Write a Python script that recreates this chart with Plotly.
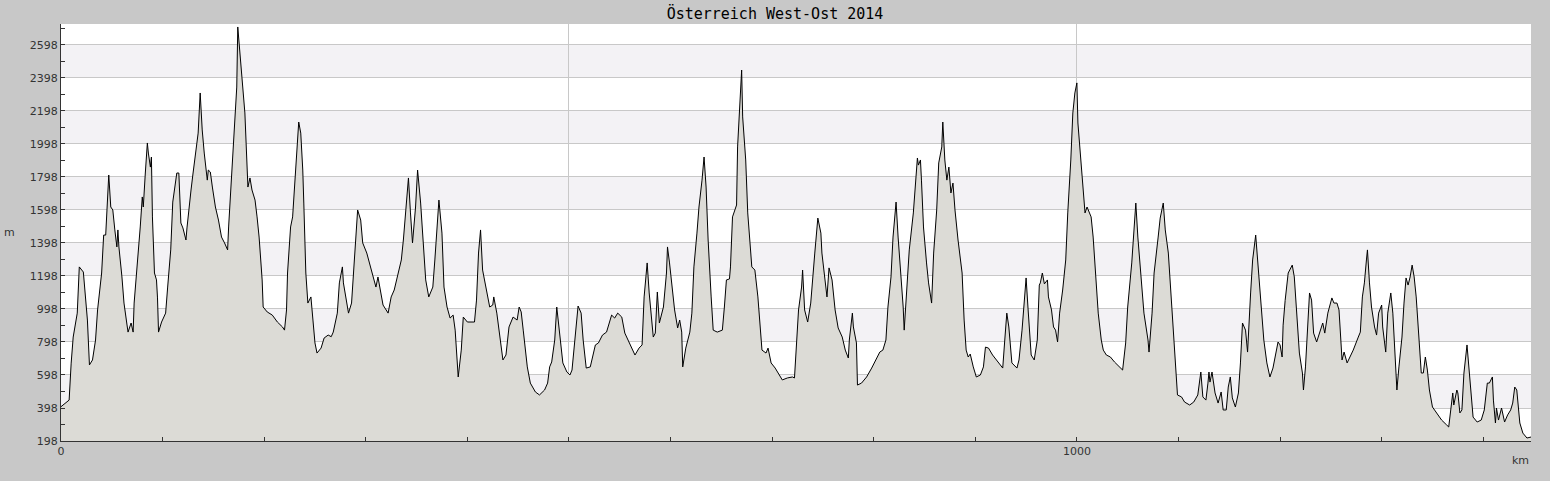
import plotly.graph_objects as go

# Höhenprofil, Distanz in km, Höhe in m
km = [0, 4, 8, 10, 12, 16, 18, 22, 26, 28, 31, 34, 36, 40, 42, 44, 46, 47, 49, 51,
      53, 55, 56, 57, 60, 62, 65, 66, 69, 71, 72, 75, 78, 80, 81, 83, 85, 86, 88, 89,
      90, 92, 94, 95, 96, 99, 103, 105, 108, 110, 114, 116, 118, 120, 123, 124, 126, 128, 130, 133,
      135, 137, 139, 141, 144, 145, 147, 149, 152, 155, 158, 161, 164, 165, 168, 171, 173, 174, 176, 178,
      181, 184, 186, 188, 191, 193, 195, 198, 199, 203, 208, 213, 218, 220, 222, 223, 226, 228, 231, 233,
      234, 236, 238, 239, 241, 243, 246, 248, 250, 252, 256, 259, 263, 266, 268, 272, 274, 277, 278, 282,
      283, 286, 289, 292, 295, 297, 301, 306, 310, 312, 314, 317, 322, 325, 328, 331, 335, 337, 340, 342,
      344, 346, 349, 351, 354, 356, 359, 362, 366, 368, 370, 372, 375, 377, 380, 383, 386, 388, 391, 394,
      396, 400, 407, 409, 411, 413, 415, 419, 422, 425, 426, 429, 432, 435, 438, 441, 445, 449, 451, 453,
      455, 459, 462, 467, 471, 476, 479, 481, 483, 486, 488, 491, 494, 498, 501, 503, 506, 509, 512, 514,
      517, 521, 526, 529, 533, 537, 542, 545, 548, 552, 555, 560, 565, 569, 572, 574, 577, 579, 581, 583,
      585, 587, 589, 593, 596, 597, 599, 601, 604, 607, 609, 611, 612, 615, 619, 621, 623, 626, 628, 631,
      633, 635, 637, 640, 642, 646, 651, 653, 655, 658, 659, 661, 665, 666, 668, 670, 671, 674, 676, 680,
      683, 686, 690, 694, 696, 699, 703, 706, 710, 715, 720, 722, 724, 726, 729, 730, 732, 735, 738, 740,
      742, 745, 748, 749, 752, 754, 756, 759, 762, 765, 769, 772, 775, 776, 779, 780, 783, 784, 788, 793,
      798, 803, 806, 809, 812, 814, 817, 819, 822, 824, 827, 829, 830, 833, 835, 839, 841, 843, 844, 846,
      847, 849, 852, 854, 857, 859, 862, 864, 867, 868, 870, 872, 874, 876, 878, 880, 883, 887, 889, 891,
      893, 895, 898, 901, 905, 908, 910, 913, 917, 922, 927, 929, 931, 933, 936, 941, 943, 946, 948, 950,
      952, 955, 958, 961, 963, 964, 966, 968, 971, 972, 975, 977, 979, 981, 983, 986, 989, 991, 994, 996,
      998, 1000, 1001, 1004, 1006, 1008, 1010, 1012, 1014, 1016, 1019, 1021, 1024, 1026, 1029, 1033, 1037, 1042, 1045, 1048,
      1050, 1054, 1056, 1058, 1060, 1063, 1066, 1070, 1071, 1074, 1076, 1080, 1082, 1085, 1087, 1090, 1092, 1095, 1098, 1099,
      1103, 1106, 1111, 1115, 1119, 1120, 1122, 1124, 1127, 1129, 1130, 1131, 1133, 1136, 1139, 1142, 1144, 1147, 1149, 1151,
      1153, 1156, 1159, 1161, 1163, 1166, 1168, 1171, 1173, 1176, 1178, 1181, 1184, 1187, 1190, 1193, 1196, 1198, 1200, 1202,
      1203, 1205, 1208, 1212, 1214, 1217, 1219, 1222, 1223, 1225, 1227, 1229, 1231, 1233, 1236, 1239, 1242, 1244, 1247, 1251,
      1253, 1256, 1258, 1261, 1263, 1266, 1269, 1272, 1277, 1279, 1281, 1283, 1285, 1286, 1288, 1290, 1293, 1295, 1297, 1300,
      1301, 1304, 1306, 1309, 1311, 1313, 1315, 1317, 1320, 1322, 1324, 1326, 1328, 1330, 1332, 1334, 1336, 1339, 1341, 1343,
      1345, 1347, 1350, 1354, 1359, 1364, 1366, 1368, 1370, 1371, 1374, 1375, 1377, 1379, 1381, 1384, 1386, 1388, 1390, 1394,
      1398, 1401, 1404, 1406, 1409, 1410, 1412, 1413, 1415, 1418, 1421, 1424, 1427, 1429, 1431, 1433, 1436, 1439, 1443, 1447]

hoehe = [406, 428, 446, 670, 828, 973, 1253, 1222, 931, 659, 689, 810, 992, 1216, 1446, 1446, 1737, 1810, 1616, 1598,
         1477, 1374, 1477, 1374, 1192, 1034, 901, 858, 913, 858, 1034, 1253, 1495, 1677, 1616, 1822, 2004, 1943, 1858, 1919,
         1556, 1216, 1174, 1065, 858, 919, 973, 1131, 1356, 1646, 1822, 1822, 1519, 1489, 1416, 1489, 1616, 1719, 1822, 1961,
         2064, 2307, 2083, 1943, 1779, 1840, 1828, 1737, 1616, 1537, 1434, 1398, 1356, 1495, 1798, 2083, 2343, 2707, 2549, 2428,
         2186, 1737, 1792, 1719, 1658, 1556, 1434, 1174, 1010, 980, 961, 919, 889, 870, 992, 1216, 1495, 1556, 1840, 2064,
         2131, 2064, 1840, 1640, 1216, 1034, 1071, 931, 792, 731, 761, 822, 840, 830, 858, 973, 1156, 1253, 1156, 1010,
         973, 1034, 1337, 1598, 1537, 1398, 1337, 1216, 1131, 1192, 1113, 1022, 973, 1071, 1113, 1186, 1295, 1416, 1616, 1792,
         1580, 1398, 1616, 1840, 1640, 1434, 1174, 1071, 1131, 1295, 1495, 1658, 1458, 1131, 1010, 943, 961, 870, 586, 749,
         949, 919, 919, 1052, 1337, 1477, 1234, 1113, 1010, 1022, 1071, 973, 828, 689, 719, 889, 949, 931, 1010, 980,
         870, 647, 549, 495, 477, 507, 549, 647, 677, 810, 1010, 828, 671, 616, 598, 628, 810, 1016, 973, 810,
         640, 647, 780, 792, 840, 858, 961, 943, 973, 949, 852, 780, 719, 761, 780, 1071, 1277, 1095, 973, 828,
         852, 1101, 913, 1010, 1216, 1374, 1277, 1174, 992, 883, 931, 858, 647, 761, 858, 973, 1253, 1458, 1616, 1779,
         1919, 1737, 1416, 1071, 870, 858, 870, 1010, 1174, 1180, 1253, 1556, 1628, 1980, 2204, 2446, 2162, 1901, 1580, 1253,
         1234, 1071, 749, 731, 761, 671, 640, 610, 568, 580, 586, 580, 767, 992, 1131, 1234, 992, 919, 1034, 1216,
         1337, 1549, 1458, 1337, 1162, 1071, 1247, 1174, 992, 883, 828, 749, 701, 810, 973, 889, 792, 537, 549, 586,
         640, 707, 737, 749, 810, 1010, 1192, 1434, 1646, 1434, 1192, 1010, 870, 1156, 1356, 1580, 1737, 1913, 1870, 1901,
         1779, 1495, 1277, 1156, 1034, 1337, 1598, 1883, 1980, 2131, 1901, 1779, 1858, 1701, 1761, 1598, 1416, 1216, 931, 749,
         707, 725, 647, 586, 598, 647, 767, 761, 719, 677, 640, 810, 973, 889, 671, 640, 689, 870, 1010, 1186,
         992, 719, 689, 810, 1143, 1156, 1216, 1150, 1174, 1071, 992, 889, 870, 798, 973, 1113, 1295, 1580, 1901, 2186,
         2307, 2368, 2125, 1901, 1737, 1580, 1616, 1580, 1556, 1434, 1192, 973, 810, 749, 719, 707, 677, 647, 628, 792,
         1010, 1277, 1495, 1640, 1434, 1174, 973, 810, 737, 973, 1216, 1434, 1549, 1640, 1477, 1337, 1156, 870, 610, 477,
         465, 434, 416, 434, 477, 525, 616, 465, 446, 549, 616, 555, 616, 489, 428, 495, 386, 386, 525, 586,
         459, 404, 489, 671, 913, 870, 737, 1095, 1295, 1446, 1295, 1034, 810, 671, 586, 640, 731, 798, 780, 707,
         900, 1050, 1216, 1264, 1192, 931, 731, 610, 507, 647, 852, 1095, 1052, 852, 798, 852, 913, 852, 973, 1065,
         1034, 1034, 992, 689, 737, 671, 707, 749, 828, 858, 1071, 1156, 1295, 1356, 1156, 1010, 889, 840, 973, 1022,
         889, 737, 973, 1095, 973, 707, 507, 647, 828, 1034, 1186, 1143, 1192, 1264, 1192, 1071, 870, 610, 610, 707,
         628, 507, 404, 368, 325, 295, 283, 386, 489, 416, 507, 489, 368, 386, 610, 780, 647, 465, 343, 313,
         325, 386, 549, 549, 586, 446, 307, 398, 325, 398, 313, 356, 386, 428, 525, 507, 307, 246, 216, 222]

titel = "Österreich West-Ost 2014"

fig = go.Figure()

fig.add_trace(go.Scatter(
    x=km, y=hoehe, mode="lines", fill="tozeroy",
    line=dict(color="black", width=1),
    fillcolor="#dcdbd6",
    hoverinfo="x+y",
))

# abwechselnde Hintergrundstreifen
for b in range(398, 2600, 400):
    fig.add_shape(type="rect", xref="paper", yref="y", x0=0, x1=1, y0=b, y1=b + 200,
                  fillcolor="#f3f2f5", line_width=0, layer="below")

fig.update_layout(
    width=1550, height=481,
    margin=dict(l=61, r=19, t=24, b=40),
    paper_bgcolor="#c8c8c8",
    plot_bgcolor="white",
    showlegend=False,
    font=dict(family="DejaVu Sans", size=11, color="#333333"),
    title=dict(text=titel, x=0.5, xanchor="center", y=0.971, yanchor="middle",
               font=dict(family="DejaVu Sans Mono", size=15, color="black")),
)

fig.update_xaxes(
    range=[0, 1447], tickvals=[0, 500, 1000], ticktext=["0", "", "1000"],
    showgrid=True, gridcolor="#c8c8c8", gridwidth=1, zeroline=False,
    showline=True, linecolor="#333333", linewidth=1,
    ticks="inside", ticklen=4, tickcolor="#333333",
    minor=dict(dtick=100, tick0=0, ticks="inside", ticklen=4, tickcolor="#333333", showgrid=False),
)
fig.update_yaxes(
    range=[198, 2725], tick0=198, dtick=200,
    showgrid=True, gridcolor="#c8c8c8", gridwidth=1, zeroline=False,
    showline=True, linecolor="#333333", linewidth=1,
    ticks="inside", ticklen=4, tickcolor="#333333",
    minor=dict(dtick=100, tick0=198, ticks="inside", ticklen=4, tickcolor="#333333", showgrid=False),
)

fig.add_annotation(text="m", xref="paper", yref="paper", x=-0.0347, y=0.5,
                   xanchor="center", yanchor="middle",
                   showarrow=False, font=dict(size=11, color="#333333"))
fig.add_annotation(text="km", xref="paper", yref="paper", x=0.993, y=-0.0456,
                   xanchor="center", yanchor="middle",
                   showarrow=False, font=dict(size=11, color="#333333"))

# Seitenrand entfernen, damit die Grafik bündig sitzt
fig.write_html("out.html", config={"displayModeBar": False},
               post_script="document.body.style.margin='0';")
